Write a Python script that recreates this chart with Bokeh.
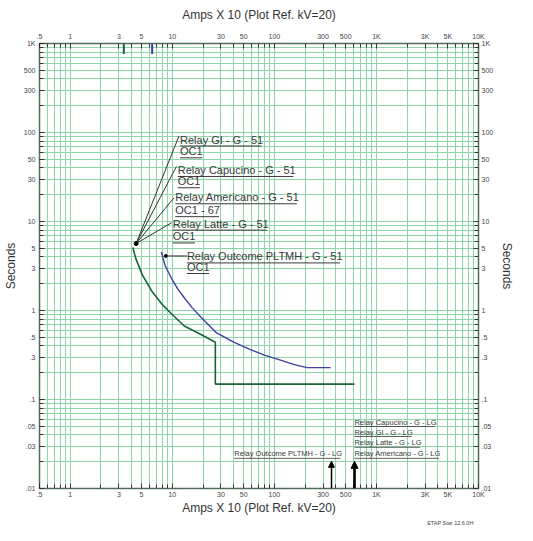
import math
from bokeh.plotting import figure
from bokeh.models import LogAxis, FixedTicker, Title, Arrow, NormalHead
from bokeh.core.properties import value
from bokeh.embed import file_html
from bokeh.resources import INLINE

# ---------------- data ----------------
x_ticks = [0.5, 1, 3, 5, 10, 30, 50, 100, 300, 500, 1000, 3000, 5000, 10000]
x_tick_labels = [".5", "1", "3", "5", "10", "30", "50", "100", "300", "500", "1K", "3K", "5K", "10K"]
y_ticks = [0.01, 0.03, 0.05, 0.1, 0.3, 0.5, 1, 3, 5, 10, 30, 50, 100, 300, 500, 1000]
y_tick_labels = [".01", ".03", ".05", ".1", ".3", ".5", "1", "3", "5", "10", "30", "50", "100", "300", "500", "1K"]

# Relay GI / Capucino / Americano / Latte - G - 51 (overlapping curves)
green_amps = [4.1, 4.4, 5.1, 6.3, 7.9, 9.8, 13.1, 18.9, 26.4, 26.4, 610]
green_sec = [5.1, 3.8, 2.5, 1.65, 1.18, 0.92, 0.67, 0.54, 0.44, 0.149, 0.149]

# Relay Outcome PLTMH - G - 51
blue_amps = [7.8, 8.5, 9.8, 11.3, 13.1, 15.7, 18.9, 27.2, 40, 56, 80, 117, 160, 209, 355]
blue_sec = [4.55, 3.2, 2.3, 1.75, 1.39, 1.07, 0.85, 0.56, 0.44, 0.37, 0.315, 0.275, 0.245, 0.228, 0.228]

# short pickup markers at the top
mark_amps = [3.35, 6.35]
mark_top = [1000, 1000]
mark_bot = [760, 760]

# ground (LG) arrows
lg_arrow_amps = [363, 610]
lg_arrow_tip = [0.0202, 0.0202]

# 51 labels
r51_line1 = ["Relay GI - G - 51", "Relay Capucino - G - 51", "Relay Americano - G - 51", "Relay Latte - G - 51"]
r51_line2 = ["OC1", "OC1", "OC1 - 67", "OC1"]
r51_x = [11.9, 11.3, 10.7, 10.1]
r51_y1 = [83.4, 37.9, 18.7, 9.46]
r51_y2 = [61.4, 28.3, 13.4, 6.79]
leader_pt = (4.42, 5.65)
leader_end_x = [11.6, 10.98, 10.37, 9.84]
leader_end_y = [90.8, 41.5, 18.4, 9.7]

out_line1 = "Relay Outcome PLTMH - G - 51"
out_line2 = "OC1"
out_x = 13.9
out_y1 = 4.05
out_y2 = 3.08
out_leader_x = [8.63, 13.9]
out_leader_y = 4.1

lg_labels = ["Relay Capucino - G - LG", "Relay GI - G - LG", "Relay Latte - G - LG",
             "Relay Americano - G - LG", "Relay Outcome PLTMH - G - LG"]
lg_x = [609, 609, 609, 609, 40.5]
lg_y = [0.0558, 0.0431, 0.0326, 0.0245, 0.0245]

axis_title_x = "Amps X 10 (Plot Ref. kV=20)"
axis_title_y = "Seconds"
stamp = "ETAP Star 12.6.0H"

# ---------------- layout ----------------
X_RANGE = (0.5, 10000)
Y_RANGE = (0.01, 1000)
W, H = 517, 525
FRAME_W = 448
FRAME_H = 447
PPD_X = FRAME_W / math.log10(X_RANGE[1] / X_RANGE[0])
PPD_Y = FRAME_H / math.log10(Y_RANGE[1] / Y_RANGE[0])

ARIAL = {" ": 278, "-": 333, ".": 278, "0": 556, "1": 556, "2": 556, "3": 556, "4": 556,
         "5": 556, "6": 556, "7": 556, "8": 556, "9": 556, "R": 722, "e": 556, "l": 222,
         "a": 556, "y": 500, "G": 778, "I": 278, "O": 778, "C": 722, "p": 556, "u": 556,
         "c": 500, "i": 222, "n": 556, "o": 556, "A": 667, "m": 833, "r": 333, "L": 556,
         "t": 278, "P": 667, "T": 611, "M": 833, "H": 722}


def text_px(s, size):
    return sum(ARIAL.get(c, 556) for c in s) / 1000.0 * size


def underline(x0, y, s, size, off):
    w = text_px(s, size)
    return x0, x0 * 10 ** (w / PPD_X), y * 10 ** (-off / PPD_Y)


GRID = "#8fd5aa"
FRAME = "#4f6e5c"
TXT = "#3a3a3a"
GREEN = "#1b6339"
BLUE = "#3f3fa6"

x_minor = [k * 10 ** e for e in range(-1, 5) for k in range(1, 10)
           if X_RANGE[0] <= k * 10 ** e <= X_RANGE[1]]
y_minor = [k * 10 ** e for e in range(-2, 4) for k in range(1, 10)
           if Y_RANGE[0] <= k * 10 ** e <= Y_RANGE[1]]

p = figure(width=W, height=H, x_axis_type="log", y_axis_type="log",
           x_range=X_RANGE, y_range=Y_RANGE, output_backend="svg", toolbar_location=None,
           min_border_left=38, min_border_right=0, min_border_top=43, min_border_bottom=0,
           background_fill_color="white", border_fill_color="white")
p.outline_line_color = FRAME
p.outline_line_width = 1.5

p.xgrid.ticker = FixedTicker(ticks=x_minor)
p.ygrid.ticker = FixedTicker(ticks=y_minor)
for g in (p.xgrid, p.ygrid):
    g.grid_line_color = GRID
    g.grid_line_width = 1

bottom_axis = p.below[0]
left_axis = p.left[0]
top_axis = LogAxis()
right_axis = LogAxis()
p.add_layout(top_axis, "above")
p.add_layout(right_axis, "right")

x_over = {t: l for t, l in zip(x_ticks, x_tick_labels)}
y_over = {t: l for t, l in zip(y_ticks, y_tick_labels)}
for ax in (bottom_axis, top_axis):
    ax.ticker = FixedTicker(ticks=x_ticks, minor_ticks=x_minor)
    ax.major_label_overrides = x_over
    ax.axis_label = axis_title_x
for ax in (left_axis, right_axis):
    ax.ticker = FixedTicker(ticks=y_ticks, minor_ticks=y_minor)
    ax.major_label_overrides = y_over
    ax.axis_label = axis_title_y
for ax in (bottom_axis, top_axis, left_axis, right_axis):
    ax.axis_line_color = None
    ax.major_tick_in = 5
    ax.major_tick_out = 0
    ax.minor_tick_in = 4
    ax.minor_tick_out = 0
    ax.major_tick_line_color = "#333333"
    ax.minor_tick_line_color = "#333333"
    ax.major_label_text_font_size = "7px"
    ax.major_label_text_color = "#444444"
    ax.major_label_text_font = "Liberation Sans"
    ax.axis_label_text_font = "Liberation Sans"
    ax.axis_label_text_font_size = "12px"
    ax.axis_label_text_font_style = "normal"
    ax.axis_label_text_color = "#333333"
top_axis.major_label_standoff = 4
top_axis.axis_label_standoff = 8
bottom_axis.major_label_standoff = 2
bottom_axis.axis_label_standoff = 0
left_axis.major_label_standoff = 4
left_axis.axis_label_standoff = 3
right_axis.major_label_standoff = 3
right_axis.axis_label_standoff = 4

# version stamp under the bottom axis title
p.add_layout(Title(text=stamp, align="right", text_font="Liberation Sans", text_font_size="5.5px",
                   text_font_style="normal", text_color="#444444", standoff=0, offset=5), "below")

# curves
p.line(green_amps, green_sec, line_color=GREEN, line_width=1.6)
p.line(blue_amps, blue_sec, line_color=BLUE, line_width=1.4)
p.segment(x0=mark_amps[:1], y0=mark_top[:1], x1=mark_amps[:1], y1=mark_bot[:1], line_color=GREEN, line_width=2)
p.segment(x0=mark_amps[1:], y0=mark_top[1:], x1=mark_amps[1:], y1=mark_bot[1:], line_color=BLUE, line_width=2)

# leaders
p.segment(x0=[leader_pt[0]] * 4, y0=[leader_pt[1]] * 4, x1=leader_end_x, y1=leader_end_y,
          line_color="#333333", line_width=1)
p.scatter([leader_pt[0]], [leader_pt[1]], size=4, color="black")
p.segment(x0=[out_leader_x[0]], y0=[out_leader_y], x1=[out_leader_x[1]], y1=[out_leader_y],
          line_color="#333333", line_width=1)
p.scatter([out_leader_x[0]], [out_leader_y], size=3, color="black")

# 51 labels
F1 = 11
txt_x, txt_y, txt_s = [], [], []
for s1, s2, x, y1, y2 in zip(r51_line1 + [out_line1], r51_line2 + [out_line2],
                             r51_x + [out_x], r51_y1 + [out_y1], r51_y2 + [out_y2]):
    txt_x += [x, x]
    txt_y += [y1, y2]
    txt_s += [s1, s2]
p.text(x=txt_x, y=txt_y, text=txt_s, text_font=value("Liberation Sans"),
       text_font_size=f"{F1}px", text_color=TXT, text_align="left", text_baseline="middle")
ul = [underline(x, y, s, F1, 6.5) for x, y, s in zip(txt_x, txt_y, txt_s)]
p.segment(x0=[u[0] for u in ul], x1=[u[1] for u in ul], y0=[u[2] for u in ul], y1=[u[2] for u in ul],
          line_color=TXT, line_width=1)

# LG labels
F2 = 7.5
p.text(x=lg_x, y=lg_y, text=lg_labels, text_font=value("Liberation Sans"),
       text_font_size=f"{F2}px", text_color=TXT, text_align="left", text_baseline="middle")
ul2 = [underline(x, y, s, F2, 4.5) for x, y, s in zip(lg_x, lg_y, lg_labels)]
p.segment(x0=[u[0] for u in ul2], x1=[u[1] for u in ul2], y0=[u[2] for u in ul2], y1=[u[2] for u in ul2],
          line_color=TXT, line_width=0.8)

# LG arrows
for xa, tip, lw, hs in zip(lg_arrow_amps, lg_arrow_tip, [1.5, 2.6], [6, 7]):
    p.add_layout(Arrow(end=NormalHead(size=hs, fill_color="black", line_color="black"),
                       x_start=xa, y_start=Y_RANGE[0], x_end=xa, y_end=tip,
                       line_color="black", line_width=lw))

open("out.html", "w").write(file_html(p, INLINE))
